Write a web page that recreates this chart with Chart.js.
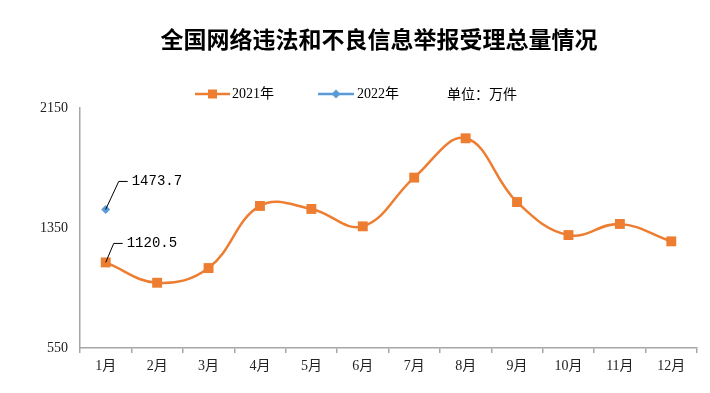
<!DOCTYPE html>
<html>
<head>
<meta charset="utf-8">
<script src="https://cdn.jsdelivr.net/npm/chart.js@4.4.0/dist/chart.umd.min.js"></script>
<style>
  html, body { margin: 0; padding: 0; background: #fff; }
  #wrap { position: relative; width: 710px; height: 393px; }
</style>
</head>
<body>
<div id="wrap"><canvas id="chart" width="710" height="393"></canvas></div>
<script>
// Data
const months = ['1月', '2月', '3月', '4月', '5月', '6月', '7月', '8月', '9月', '10月', '11月', '12月'];
const values2021 = [1120.5, 985, 1083, 1497, 1477, 1361, 1686, 1948, 1523, 1303, 1377, 1261];
const values2022 = [1473.7, null, null, null, null, null, null, null, null, null, null, null];
const yTicks = [550, 1350, 2150];
const titleText = '全国网络违法和不良信息举报受理总量情况';
const unitText = '单位：万件';

const ORANGE = '#ED7D31';
const BLUE = '#5B9BD5';
const labelFont = '"Liberation Serif", "Noto Sans CJK SC", serif';

// Title + legend drawn at top
const headerPlugin = {
    id: 'header',
    afterDraw(chart) {
        const ctx = chart.ctx;
        ctx.save();
        ctx.fillStyle = '#000';
        ctx.textBaseline = 'middle';
        ctx.textAlign = 'center';
        ctx.font = 'bold 23px "Noto Sans CJK SC", sans-serif';
        ctx.fillText(titleText, 379, 39);

        // legend
        const ly = 94;
        ctx.lineWidth = 2.5;
        ctx.strokeStyle = ORANGE;
        ctx.beginPath(); ctx.moveTo(195, ly); ctx.lineTo(230, ly); ctx.stroke();
        ctx.fillStyle = ORANGE;
        ctx.fillRect(208, ly - 4.5, 9, 9);

        ctx.strokeStyle = BLUE;
        ctx.beginPath(); ctx.moveTo(318, ly); ctx.lineTo(354, ly); ctx.stroke();
        ctx.fillStyle = BLUE;
        ctx.beginPath();
        ctx.moveTo(336, ly - 4.5); ctx.lineTo(340.5, ly); ctx.lineTo(336, ly + 4.5); ctx.lineTo(331.5, ly);
        ctx.closePath(); ctx.fill();

        ctx.fillStyle = '#000';
        ctx.textAlign = 'left';
        ctx.font = '14px ' + labelFont;
        ctx.fillText(chart.data.datasets[0].label, 232, ly);
        ctx.fillText(chart.data.datasets[1].label, 357, ly);
        ctx.font = '14px "Noto Sans CJK SC", sans-serif';
        ctx.fillText(unitText, 447, ly);
        ctx.restore();
    }
};

// Value callouts with leader lines
const calloutPlugin = {
    id: 'callouts',
    afterDatasetsDraw(chart) {
        const ctx = chart.ctx;
        const x = chart.scales.x;
        const y = chart.scales.y;
        const items = [
            { v: values2022[0], dx: 13, dy: -28, len: 9 },
            { v: values2021[0], dx: 8, dy: -19, len: 9 }
        ];
        ctx.save();
        ctx.strokeStyle = '#000';
        ctx.lineWidth = 1;
        ctx.fillStyle = '#000';
        ctx.font = '14px "Liberation Mono", monospace';
        ctx.textBaseline = 'middle';
        items.forEach(it => {
            const px = x.getPixelForValue(0);
            const py = y.getPixelForValue(it.v);
            const ex = px + it.dx, ey = py + it.dy;
            ctx.beginPath();
            ctx.moveTo(px, py);
            ctx.lineTo(ex, ey);
            ctx.lineTo(ex + it.len, ey);
            ctx.stroke();
            ctx.fillText(it.v.toFixed(1), ex + it.len + 4, ey);
        });
        ctx.restore();
    }
};

new Chart(document.getElementById('chart'), {
    type: 'line',
    data: {
        labels: months,
        datasets: [{
            label: '2021年',
            data: values2021,
            borderColor: ORANGE,
            backgroundColor: ORANGE,
            borderWidth: 2.5,
            tension: 0.4,
            pointStyle: 'rect',
            pointRadius: 7,
            pointBorderWidth: 0,
            order: 2
        }, {
            label: '2022年',
            data: values2022,
            borderColor: BLUE,
            backgroundColor: BLUE,
            borderWidth: 2.5,
            pointStyle: 'rectRot',
            pointRadius: 4.5,
            pointBorderWidth: 0,
            order: 1
        }]
    },
    options: {
        responsive: false,
        animation: false,
        layout: { padding: { left: 0, top: 108, right: 13, bottom: 0 } },
        scales: {
            x: {
                offset: true,
                grid: { offset: true, drawOnChartArea: false, drawTicks: true, tickLength: 5, color: '#a6a6a6', lineWidth: 1.5 },
                border: { color: '#a6a6a6', width: 1.5 },
                ticks: { color: '#222', font: { family: labelFont, size: 14 }, padding: 5, maxRotation: 0, autoSkip: false },
                afterFit(scale) { scale.height = 45; scale.paddingLeft = 0; scale.paddingRight = 0; }
            },
            y: {
                min: yTicks[0],
                max: yTicks[yTicks.length - 1],
                afterBuildTicks(scale) { scale.ticks = yTicks.map(v => ({ value: v })); },
                grid: { drawOnChartArea: false, drawTicks: false },
                border: { color: '#a6a6a6', width: 1.5 },
                ticks: {
                    color: '#222',
                    font: { family: labelFont, size: 14 },
                    padding: 12,
                    callback: v => String(v)
                },
                afterFit(scale) { scale.width = 80; scale.paddingTop = 0; scale.paddingBottom = 0; }
            }
        },
        plugins: {
            legend: { display: false },
            title: { display: false },
            tooltip: { enabled: false }
        }
    },
    plugins: [headerPlugin, calloutPlugin]
});
</script>
</body>
</html>
